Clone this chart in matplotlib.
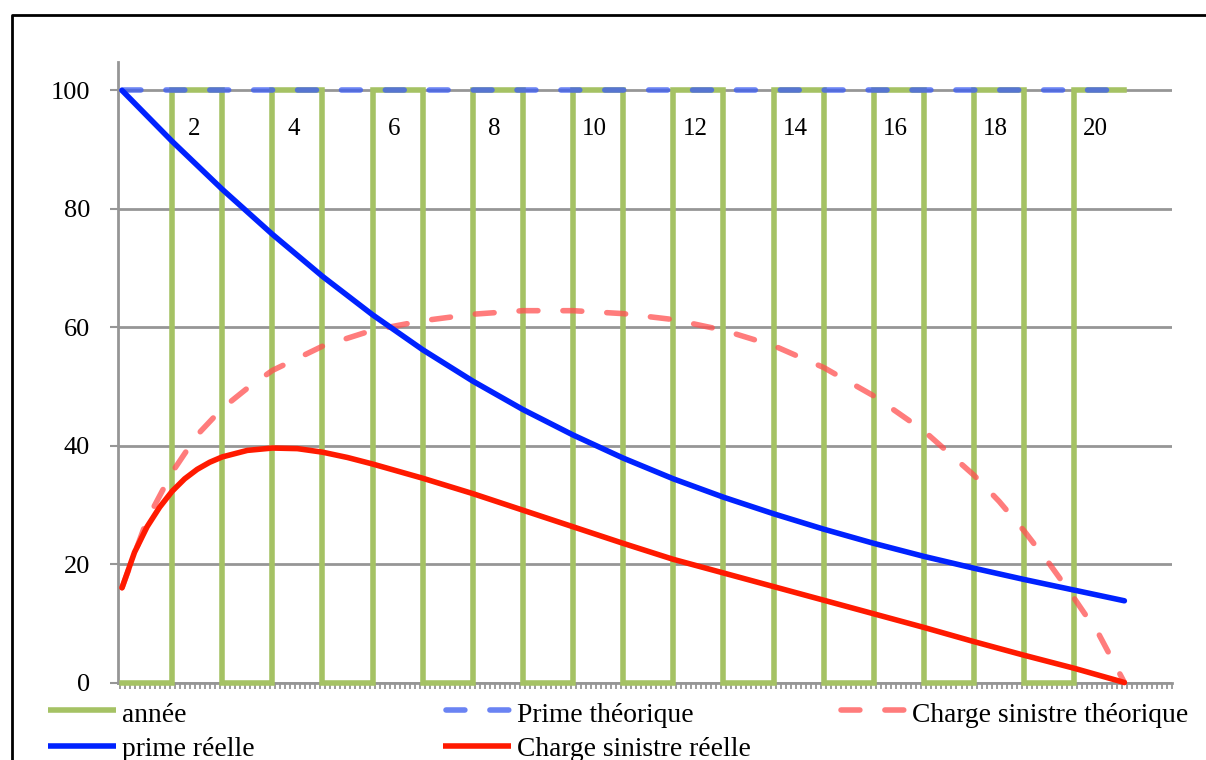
import matplotlib
matplotlib.use("Agg")
import matplotlib.pyplot as plt
from matplotlib.lines import Line2D
import numpy as np

# ---------------- data ----------------
years = [0, 1, 2, 3, 4, 5, 6, 7, 8, 9, 10, 11, 12, 13, 14, 15, 16, 17, 18, 19, 20]
annee = [0, 100, 0, 100, 0, 100, 0, 100, 0, 100, 0, 100, 0, 100, 0, 100, 0, 100, 0, 100, 100]
prime_theorique = [100, 100, 100, 100, 100, 100, 100, 100, 100, 100, 100,
                   100, 100, 100, 100, 100, 100, 100, 100, 100, 100]
prime_reelle = [100, 91.4, 83.3, 75.7, 68.6, 62.1, 56.2, 50.9, 46.1, 41.8, 37.9,
                34.4, 31.3, 28.5, 25.9, 23.5, 21.3, 19.3, 17.4, 15.6, 13.8]

charge_reelle_t = [0, 0.25, 0.5, 0.75, 1, 1.25, 1.5, 1.75, 2, 2.5, 3, 3.5, 4, 4.5, 5,
                   5.5, 6, 7, 8, 9, 10, 11, 12, 13, 14, 15, 16, 17, 18, 19, 20]
charge_reelle = [16, 22.0, 26.3, 29.6, 32.3, 34.4, 36.0, 37.2, 38.1, 39.2, 39.6, 39.5,
                 38.9, 38.0, 36.9, 35.7, 34.5, 31.9, 29.1, 26.3, 23.5, 20.8, 18.5,
                 16.2, 13.9, 11.6, 9.3, 6.9, 4.6, 2.4, 0]

charge_theo_t = [0, 0.5, 1, 1.5, 2, 2.5, 3, 4, 5, 6, 7, 8, 9, 10, 11, 12, 13, 14, 15,
                 16, 17, 17.5, 18, 18.5, 19, 19.5, 20]
charge_theorique = [16, 27.5, 35.5, 41.8, 46.3, 49.7, 52.7, 56.8, 59.5, 61.1, 62.2,
                    62.8, 62.8, 62.3, 61.3, 59.5, 56.9, 53.2, 48.4, 42.5, 35.0, 30.6,
                    25.6, 20.1, 14.2, 8.0, 0]

top_labels = [2, 4, 6, 8, 10, 12, 14, 16, 18, 20]
y_ticks = [0, 20, 40, 60, 80, 100]

series_names = ["année", "Prime théorique", "Charge sinistre théorique",
                "prime réelle", "Charge sinistre réelle"]

# ---------------- style ----------------
FONT = ["Liberation Serif", "DejaVu Serif"]
plt.rcParams["font.family"] = FONT
W, H = 1206, 760
GREEN = "#A5C264"
BLUE_D = "#4060F0"
RED_D = "#FF5050"
BLUE = "#0022FF"
RED = "#FF1A00"
GRID = "#969696"
LW = 4.0
DASH = (0, (3.4, 4.5))

fig = plt.figure(figsize=(W / 100, H / 100), dpi=100)
fig.patch.set_facecolor("white")

def fx(px):
    return px / W

def fy(py):
    return 1 - py / H

ax = fig.add_axes([fx(118), fy(682.5), fx(1172) - fx(118), fy(62) - fy(682.5)])
ax.set_xlim(-0.08, 20.94)
ax.set_ylim(0, 104.8)

# series
l_annee, = ax.plot(years, annee, drawstyle="steps-post", color=GREEN, lw=LW,
                   zorder=3, clip_on=False, solid_joinstyle="miter")
l_pt, = ax.plot(years, prime_theorique, color=BLUE_D, alpha=0.78, lw=LW, ls=DASH,
                dash_capstyle="round", zorder=4, clip_on=False)
l_ct, = ax.plot(charge_theo_t, charge_theorique, color=RED_D, alpha=0.75, lw=LW,
                ls=DASH, dash_capstyle="round", zorder=4, clip_on=False)
l_pr, = ax.plot(years, prime_reelle, color=BLUE, lw=LW, solid_capstyle="round",
                solid_joinstyle="round", zorder=5, clip_on=False)
l_cr, = ax.plot(charge_reelle_t, charge_reelle, color=RED, lw=LW,
                solid_capstyle="round", solid_joinstyle="round", zorder=6,
                clip_on=False)

# top labels
for lab in top_labels:
    ax.text(lab - 0.57, 93.5, str(lab), ha="center", va="center",
            fontsize=18, family=FONT, color="black", zorder=7)

# axes styling
for s in ["top", "right"]:
    ax.spines[s].set_visible(False)
for s in ["left", "bottom"]:
    ax.spines[s].set_color(GRID)
    ax.spines[s].set_linewidth(2)
ax.set_yticks(y_ticks)
ax.set_yticklabels([str(v) for v in y_ticks])
ax.tick_params(axis="y", direction="out", length=6, width=1.5, color=GRID,
               labelsize=19, pad=14, labelcolor="black")
xt = np.arange(-0.05, 20.96, 0.1)
ax.set_xticks(xt)
ax.set_xticklabels([])
ax.tick_params(axis="x", direction="out", length=4.5, width=1.3, color=GRID)
ax.yaxis.grid(True, color=GRID, lw=2)
ax.set_axisbelow(True)

# legend (manual, Excel layout)
entries = [
    (48, 710, 722, l_annee, series_names[0]),
    (443, 710, 722, l_pt, series_names[1]),
    (838, 710, 722, l_ct, series_names[2]),
    (48, 746, 756, l_pr, series_names[3]),
    (443, 746, 756, l_cr, series_names[4]),
]
for x0, yh, yb, line, name in entries:
    if line.get_linestyle() == "-":
        fig.add_artist(Line2D([fx(x0), fx(x0 + 68)], [fy(yh), fy(yh)],
                              transform=fig.transFigure, color=line.get_color(),
                              lw=LW, alpha=line.get_alpha(), solid_capstyle="butt"))
    else:
        fig.add_artist(Line2D([fx(x0 + 3), fx(x0 + 68)], [fy(yh), fy(yh)],
                              transform=fig.transFigure, color=line.get_color(),
                              lw=LW, alpha=line.get_alpha(), ls=DASH,
                              dash_capstyle="round"))
    fig.text(fx(x0 + 74), fy(yb), name, ha="left", va="baseline",
             fontsize=19.8, family=FONT, color="black")

# outer frame (top and left edges visible)
fig.add_artist(Line2D([fx(12), fx(12), fx(W + 5)], [fy(H + 5), fy(15), fy(15)],
                      transform=fig.transFigure, color="black", lw=2))

fig.savefig("out.png", dpi=100, facecolor="white")
